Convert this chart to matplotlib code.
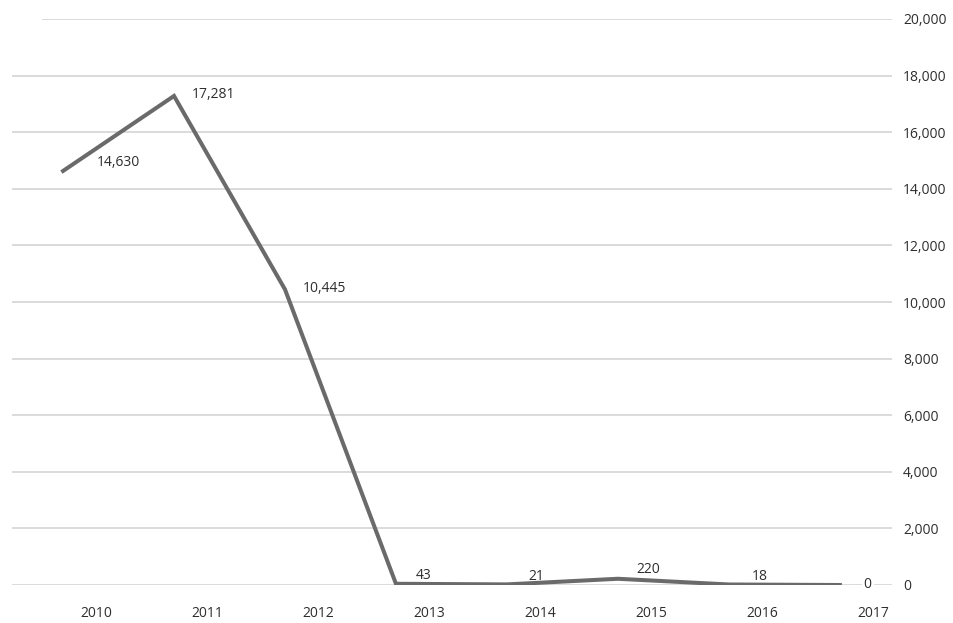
import matplotlib.pyplot as plt
import numpy as np

years = ['2010', '2011', '2012', '2013', '2014', '2015', '2016', '2017']
counts = [14630, 17281, 10445, 43, 21, 220, 18, 0]
y_ticks = [0, 2000, 4000, 6000, 8000, 10000, 12000, 14000, 16000, 18000, 20000]

# label offsets in points (dx, dy) and alignment for each value label
label_offsets = [(24, 6), (13, 1), (13, 1), (20, 6), (21, 6), (22, 7), (22, 6), (20, 0)]
label_ha = ['left', 'left', 'left', 'center', 'center', 'center', 'center', 'center']

plt.rcParams['font.family'] = ['Open Sans', 'DejaVu Sans']

fig = plt.figure(figsize=(9.54, 6.23), dpi=100)
ax = fig.add_axes([12 / 954, 38 / 623, 880 / 954, 566 / 623])

x = np.arange(len(years))

# light horizontal rules
for yv in y_ticks:
    start = 0.035 if yv == max(y_ticks) else 0.0
    ax.axhline(yv, xmin=start, xmax=1.0, color='#dadada', lw=1.4, zorder=0)

ax.plot(x, counts, color='#6a6a6a', lw=2.9, solid_joinstyle='miter', zorder=3)

for i, v in enumerate(counts):
    dx, dy = label_offsets[i]
    ax.annotate(f'{v:,}', (x[i], v), xytext=(dx, dy), textcoords='offset points',
                ha=label_ha[i], va='center', fontsize=10, color='#2e2e2e',
                bbox=dict(boxstyle='square,pad=0.15', fc='white', ec='none') if v == 0 else None,
                zorder=4)

ax.set_xlim(-0.46, 7.47)
ax.set_ylim(0, 20000)

ax.set_xticks(x + 0.3)
ax.set_xticklabels(years)
ax.set_yticks(y_ticks)
ax.set_yticklabels([f'{t:,}' for t in y_ticks])
ax.yaxis.tick_right()
ax.tick_params(axis='both', length=0, labelsize=10, labelcolor='#2e2e2e')
ax.tick_params(axis='x', pad=15)
ax.tick_params(axis='y', pad=8)

for s in ax.spines.values():
    s.set_visible(False)

fig.savefig('out.png', dpi=100)
